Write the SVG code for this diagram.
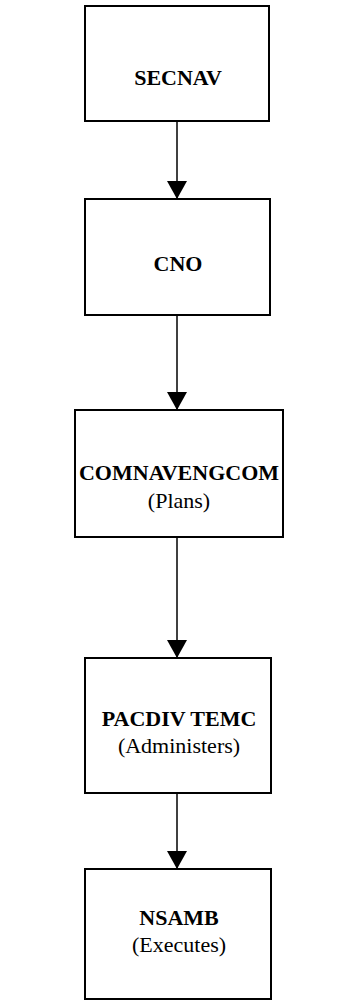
<svg xmlns="http://www.w3.org/2000/svg" width="364" height="1002" viewBox="0 0 364 1002">
<defs>
<style>
.box{fill:#fff;stroke:#000;stroke-width:2}
.t{font-family:"Liberation Serif","Times New Roman",serif;font-weight:bold;font-size:22px;text-anchor:middle;fill:#000}
.s{font-family:"Liberation Serif","Times New Roman",serif;font-size:22px;text-anchor:middle;fill:#000}
.c{stroke:#000;stroke-width:1.5;fill:none}
</style>
<marker id="ah" markerWidth="18" markerHeight="20" refX="18" refY="10" orient="auto" markerUnits="userSpaceOnUse" viewBox="0 0 18 20">
<path d="M0,0 L18,10 L0,20 Z" fill="#000"/>
</marker>
</defs>
<rect width="364" height="1002" fill="#fff"/>
<g id="secnav"><rect class="box" x="85" y="6" width="184" height="115"/><text class="t" x="178" y="85">SECNAV</text></g>
<g id="cno"><rect class="box" x="85" y="199" width="185" height="116"/><text class="t" x="178" y="271">CNO</text></g>
<g id="comnavengcom"><rect class="box" x="75" y="410" width="208" height="127"/><text class="t" x="179" y="480">COMNAVENGCOM</text><text class="s" x="179" y="508">(Plans)</text></g>
<g id="pacdiv"><rect class="box" x="85" y="658" width="186" height="135"/><text class="t" x="179" y="726">PACDIV TEMC</text><text class="s" x="179" y="753">(Administers)</text></g>
<g id="nsamb"><rect class="box" x="85" y="869" width="186" height="130"/><text class="t" x="179" y="925">NSAMB</text><text class="s" x="179" y="952">(Executes)</text></g>
<g id="connectors">
<line class="c" x1="177" y1="121" x2="177" y2="199" marker-end="url(#ah)"/>
<line class="c" x1="177" y1="315" x2="177" y2="410" marker-end="url(#ah)"/>
<line class="c" x1="177" y1="537" x2="177" y2="658" marker-end="url(#ah)"/>
<line class="c" x1="177" y1="793" x2="177" y2="869" marker-end="url(#ah)"/>
</g>
</svg>
